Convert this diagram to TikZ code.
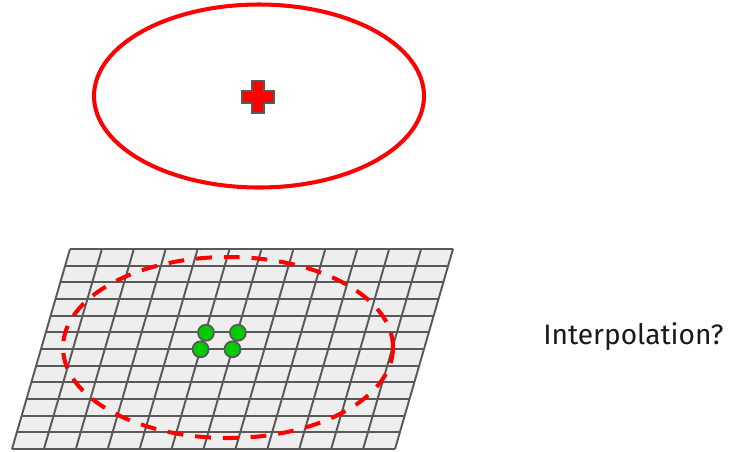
\documentclass[tikz,border=0pt]{standalone}
\usepackage{fontspec}
\setmainfont{Fira Sans}
\usetikzlibrary{positioning, calc}
\definecolor{gridgray}{HTML}{595959}
\definecolor{cellgray}{HTML}{EEEEEE}
\definecolor{dotgreen}{HTML}{00CC00}

\begin{document}
\begin{tikzpicture}[x=0.02cm, y=-0.02cm,
    gridline/.style={draw=gridgray, line width=1.1pt},
    sample/.style={circle, fill=dotgreen, draw=gridgray, line width=1pt, inner sep=0pt, minimum size=0.32cm},
    region/.style={draw=red, line width=2.3pt}]
    \useasboundingbox (0,0) rectangle (739,451);

    % target point and its footprint
    \draw[region] (259,96) ellipse [x radius=165, y radius=91.5];
    \draw[fill=red, draw=gridgray, line width=1pt, shift={(258,97)}]
        (-6,-16) -- (6,-16) -- (6,-6) -- (16,-6) -- (16,6) -- (6,6) -- (6,16)
        -- (-6,16) -- (-6,6) -- (-16,6) -- (-16,-6) -- (-6,-6) -- cycle;

    % texture grid
    \coordinate (tl) at (70,249);
    \coordinate (tr) at (453,249);
    \coordinate (br) at (395,449);
    \coordinate (bl) at (12,449);
    \fill[cellgray] (tl) -- (tr) -- (br) -- (bl) -- cycle;
    \foreach \k in {0,...,12}
        \draw[gridline] ($(tl)!\k/12!(bl)$) -- ($(tr)!\k/12!(br)$);
    \foreach \j in {0,...,12}
        \draw[gridline] ($(tl)!\j/12!(tr)$) -- ($(bl)!\j/12!(br)$);

    \draw[region, dash pattern=on 9pt off 6.8pt] (228,347.5) ellipse [x radius=165, y radius=90.5];

    % texels
    \node[sample] (s1) at (206,332.7) {};
    \node[sample] (s2) at (237.9,332.7) {};
    \node[sample] (s3) at (200.6,349.3) {};
    \node[sample] (s4) at (232.5,349.3) {};

    \node[anchor=west, inner sep=0pt, text=black!90, font=\fontsize{16}{19}\selectfont] (ask) at (543,337) {Interpolation?};
\end{tikzpicture}
\end{document}
